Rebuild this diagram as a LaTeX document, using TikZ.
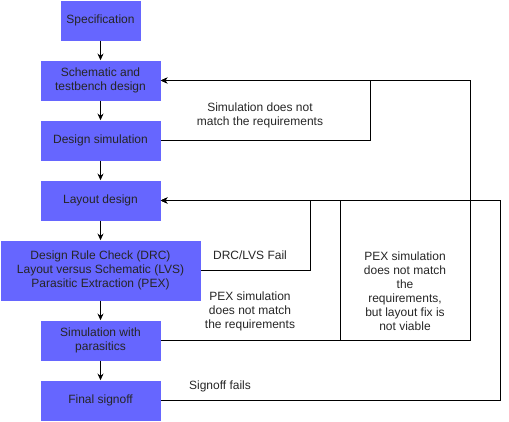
\documentclass[tikz,border=0pt]{standalone}
\usepackage{fontspec}
\setmainfont{Liberation Sans}
\usetikzlibrary{arrows.meta}
\definecolor{stageblue}{RGB}{102,102,255}
\tikzset{
    stage/.style={fill=stageblue,minimum width=90pt,minimum height=30pt,inner sep=0pt,align=center,text=black!85,font=\fontsize{9}{10.5}\selectfont},
    note/.style={align=center,inner sep=0pt,text=black!85,font=\fontsize{9}{10.5}\selectfont},
    flow/.style={-{Stealth[length=5pt,width=4.5pt]},line width=0.75pt},
    loop/.style={line width=0.75pt}
}
\begin{document}
\begin{tikzpicture}[x=0.75pt,y=-0.75pt]
    \useasboundingbox (0,0) rectangle (509,421);
    % main flow
    \node[stage,minimum width=60pt] (spec) at (100.5,20.5) {Specification};
    \node[stage] (schem) at (100.5,80.5) {Schematic and\\testbench design};
    \node[stage] (dsim) at (100.5,140.5) {Design simulation};
    \node[stage] (layout) at (100.5,200.5) {Layout design};
    \node[stage,minimum width=150pt,minimum height=45pt] (drc) at (100.5,270.5) {Design Rule Check (DRC)\\Layout versus Schematic (LVS)\\Parasitic Extraction (PEX)};
    \node[stage] (psim) at (100.5,340.5) {Simulation with\\parasitics};
    \node[stage] (sign) at (100.5,400.5) {Final signoff};
    \foreach \a/\b in {spec/schem,schem/dsim,dsim/layout,layout/drc,drc/psim,psim/sign}
        \draw[flow] (\a) -- (\b);
    % feedback loops
    \draw[flow] (dsim.east) -- ++(210,0) |- (schem.east);
    \draw[flow] (psim.east) -- ++(310,0) |- (schem.east);
    \draw[flow] (psim.east) -- ++(180,0) |- (layout.east);
    \draw[flow] (drc.east) -- ++(110,0) |- (layout.east);
    \draw[flow] (sign.east) -- ++(340,0) |- (layout.east);
    % labels
    \node[note] (simfail) at (260,115.5) {Simulation does not\\match the requirements};
    \node[note] (drcfail) at (250,255.5) {DRC/LVS Fail};
    \node[note] (pexfail) at (250,311) {PEX simulation\\does not match\\the requirements};
    \node[note] (pexlayout) at (405,291) {PEX simulation\\does not match\\the\\requirements,\\but layout fix is\\not viable};
    \node[note] (signfail) at (220,386) {Signoff fails};
\end{tikzpicture}
\end{document}
